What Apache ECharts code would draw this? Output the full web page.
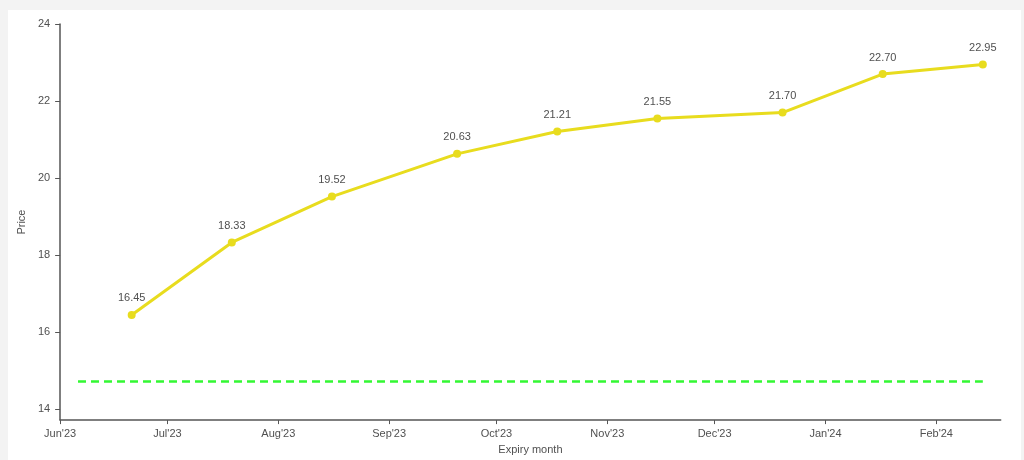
<!DOCTYPE html>
<html>
<head>
<meta charset="utf-8">
<script src="https://cdn.jsdelivr.net/npm/echarts@6/dist/echarts.min.js"></script>
<style>
    html, body { margin: 0; padding: 0; background: #f3f3f3; }
    #card { position: absolute; left: 8px; top: 10px; width: 1013px; height: 450px; background: #fff; }
    #chart { width: 100%; height: 100%; }
</style>
</head>
<body>
<div id="card"><div id="chart"></div></div>
<script>
    // expiry dates and futures prices
    var expiryDates = ['2023-06-21', '2023-07-19', '2023-08-16', '2023-09-20', '2023-10-18',
                       '2023-11-15', '2023-12-20', '2024-01-17', '2024-02-14'];
    var prices = [16.45, 18.33, 19.52, 20.63, 21.21, 21.55, 21.70, 22.70, 22.95];

    // spot level (dashed green)
    var spotDates = ['2023-06-06', '2024-02-14'];
    var spotValues = [14.72, 14.72];

    // tick labels
    var monthTicks = ['2023-06-01', '2023-07-01', '2023-08-01', '2023-09-01', '2023-10-01',
                      '2023-11-01', '2023-12-01', '2024-01-01', '2024-02-01'];
    var monthNames = ['Jan', 'Feb', 'Mar', 'Apr', 'May', 'Jun', 'Jul', 'Aug', 'Sep', 'Oct', 'Nov', 'Dec'];
    var priceTicks = [14, 16, 18, 20, 22, 24];

    function ts(s) {
        var p = s.split('-');
        return Date.UTC(+p[0], p[1] - 1, +p[2]);
    }

    var tickTimes = monthTicks.map(ts);

    var futData = [];
    expiryDates.forEach(function (d, i) {
        futData.push([ts(d), prices[i]]);
    });
    var spotData = [];
    spotDates.forEach(function (d, i) {
        spotData.push([ts(d), spotValues[i]]);
    });

    var axisColor = '#555';
    var textColor = '#505050';
    var font = 'Liberation Sans, Arial, sans-serif';

    var myChart = echarts.init(document.getElementById('chart'));
    var option = {
        animation: false,
        grid: {
            left: 49.7,
            right: 20.3,
            top: 14,
            bottom: 38.3
        },
        xAxis: {
            type: 'value',
            min: ts('2023-06-01'),
            max: ts('2024-02-19'),
            name: 'Expiry month',
            nameLocation: 'middle',
            nameGap: 22,
            nameTextStyle: { color: textColor, fontSize: 11, fontFamily: font },
            axisLine: { onZero: false, lineStyle: { color: axisColor, width: 1.5 } },
            axisTick: { show: true, length: 4, customValues: tickTimes, lineStyle: { color: axisColor } },
            axisLabel: {
                customValues: tickTimes,
                margin: 8,
                color: textColor,
                fontSize: 11,
                fontFamily: font,
                formatter: function (val) {
                    var d = new Date(val);
                    return monthNames[d.getUTCMonth()] + "'" + String(d.getUTCFullYear()).slice(2);
                }
            },
            splitLine: { show: false }
        },
        yAxis: {
            type: 'value',
            min: 13.72,
            max: 24,
            name: 'Price',
            nameLocation: 'middle',
            nameGap: 29,
            nameTextStyle: { color: textColor, fontSize: 11, fontFamily: font },
            axisLine: { show: true, lineStyle: { color: axisColor, width: 1.5 } },
            axisTick: { show: true, length: 5, customValues: priceTicks, lineStyle: { color: axisColor } },
            axisLabel: {
                customValues: priceTicks,
                margin: 10,
                color: textColor,
                fontSize: 11,
                fontFamily: font
            },
            splitLine: { show: false }
        },
        series: [
            {
                name: 'Futures',
                type: 'line',
                data: futData,
                symbol: 'circle',
                symbolSize: 8,
                itemStyle: { color: '#e8dc1e' },
                lineStyle: { color: '#e8dc1e', width: 3 },
                label: {
                    show: true,
                    position: 'top',
                    distance: 7,
                    color: textColor,
                    fontSize: 11,
                    fontFamily: font,
                    formatter: function (p) { return p.value[1].toFixed(2); }
                }
            },
            {
                name: 'Spot',
                type: 'line',
                data: spotData,
                symbol: 'none',
                lineStyle: { color: '#33f833', width: 2.5, type: [8, 5] }
            }
        ]
    };
    myChart.setOption(option);
</script>
</body>
</html>
